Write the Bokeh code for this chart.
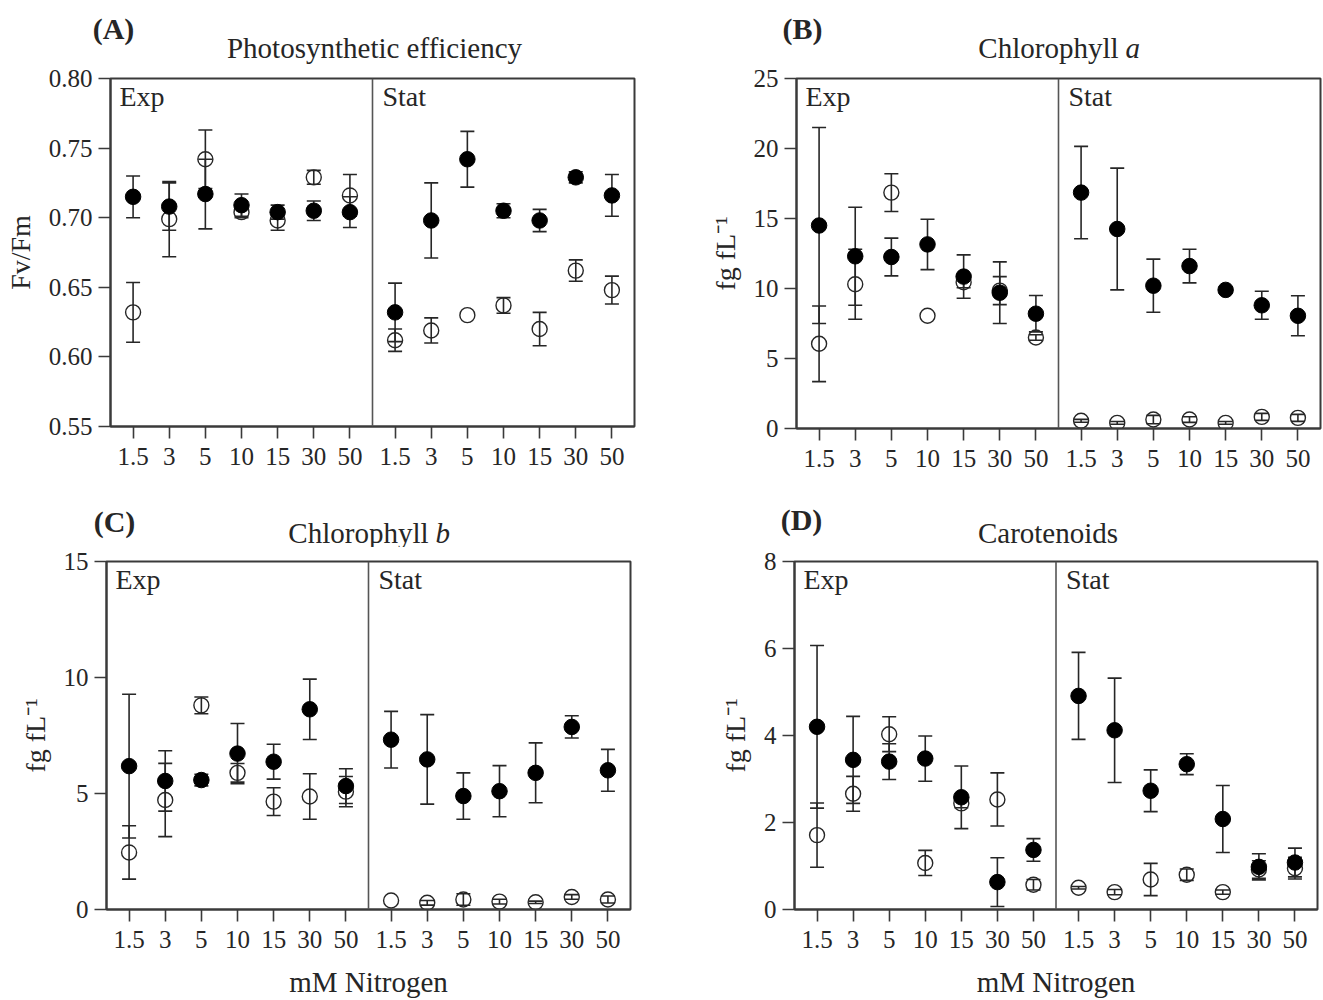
from bokeh.plotting import figure
from bokeh.layouts import column, row
from bokeh.models import FixedTicker, Label, Span, ColumnDataSource, Range1d
from bokeh.embed import file_html
from bokeh.resources import INLINE

# Nitrogen treatment levels (mM), shown once per growth phase
levels = ["1.5", "3", "5", "10", "15", "30", "50"]

# (A) Photosynthetic efficiency, Fv/Fm
fvfm_exp_solid = [0.715, 0.708, 0.717, 0.709, 0.704, 0.705, 0.704]
fvfm_exp_solid_err = [0.015, 0.017, 0.025, 0.008, 0.005, 0.007, 0.011]
fvfm_exp_hollow = [0.632, 0.699, 0.742, 0.704, 0.698, 0.729, 0.716]
fvfm_exp_hollow_err = [0.0215, 0.027, 0.021, 0.004, 0.007, 0.005, 0.015]
fvfm_stat_solid = [0.632, 0.698, 0.742, 0.705, 0.698, 0.729, 0.716]
fvfm_stat_solid_err = [0.021, 0.027, 0.020, 0.005, 0.008, 0.004, 0.015]
fvfm_stat_hollow = [0.612, 0.619, 0.630, 0.637, 0.620, 0.662, 0.648]
fvfm_stat_hollow_err = [0.008, 0.009, 0.0, 0.0056, 0.012, 0.0077, 0.010]

# (B) Chlorophyll a, fg fL-1
chla_exp_solid = [14.5, 12.3, 12.25, 13.15, 10.85, 9.7, 8.2]
chla_exp_solid_err = [7.0, 3.5, 1.35, 1.8, 1.55, 2.2, 1.3]
chla_exp_hollow = [6.05, 10.3, 16.85, 8.05, 10.45, 9.85, 6.5]
chla_exp_hollow_err = [2.7, 2.5, 1.35, 0.0, 0.4, 1.0, 0.2]
chla_stat_solid = [16.85, 14.25, 10.2, 11.6, 9.9, 8.8, 8.05]
chla_stat_solid_err = [3.3, 4.35, 1.9, 1.2, 0.2, 1.0, 1.43]
chla_stat_hollow = [0.55, 0.4, 0.64, 0.64, 0.4, 0.83, 0.76]
chla_stat_hollow_err = [0.1, 0.1, 0.3, 0.2, 0.1, 0.25, 0.25]

# (C) Chlorophyll b, fg fL-1
chlb_exp_solid = [6.18, 5.54, 5.58, 6.72, 6.37, 8.63, 5.32]
chlb_exp_solid_err = [3.1, 1.3, 0.25, 1.3, 0.75, 1.3, 0.75]
chlb_exp_hollow = [2.46, 4.72, 8.8, 5.89, 4.65, 4.87, 5.08]
chlb_exp_hollow_err = [1.15, 1.58, 0.36, 0.4, 0.6, 0.98, 0.65]
chlb_stat_solid = [7.32, 6.47, 4.89, 5.1, 5.89, 7.87, 6.0]
chlb_stat_solid_err = [1.22, 1.93, 1.0, 1.1, 1.29, 0.48, 0.9]
chlb_stat_hollow = [0.39, 0.29, 0.43, 0.34, 0.31, 0.54, 0.43]
chlb_stat_hollow_err = [0.0, 0.1, 0.25, 0.1, 0.05, 0.1, 0.15]

# (D) Carotenoids, fg fL-1
car_exp_solid = [4.2, 3.44, 3.4, 3.47, 2.58, 0.63, 1.37]
car_exp_solid_err = [1.87, 1.0, 0.41, 0.52, 0.72, 0.56, 0.26]
car_exp_hollow = [1.71, 2.66, 4.03, 1.07, 2.44, 2.53, 0.57]
car_exp_hollow_err = [0.74, 0.4, 0.4, 0.29, 0.1, 0.61, 0.12]
car_stat_solid = [4.91, 4.12, 2.73, 3.34, 2.08, 0.98, 1.08]
car_stat_solid_err = [1.0, 1.2, 0.48, 0.24, 0.77, 0.3, 0.33]
car_stat_hollow = [0.5, 0.4, 0.69, 0.8, 0.4, 0.92, 0.95]
car_stat_hollow_err = [0.03, 0.06, 0.37, 0.13, 0.05, 0.2, 0.25]

SERIF = "Liberation Serif"
INK = "#262626"
FRAME = "#3a3a3a"

# x layout: Exp levels at 0..6, Stat levels after a divider
exp_x = [float(i) for i in range(len(levels))]
stat_x = [7.25 + i for i in range(len(levels))]
divider = 6.625
x_lo, x_hi = -0.625, 13.875


def error_bars(p, xs, ys, errs):
    keep = [i for i, e in enumerate(errs) if e > 0]
    src = ColumnDataSource(dict(
        x=[xs[i] for i in keep],
        lo=[ys[i] - errs[i] for i in keep],
        hi=[ys[i] + errs[i] for i in keep],
    ))
    p.segment(x0="x", y0="lo", x1="x", y1="hi", source=src,
              line_color=INK, line_width=1.6)
    p.scatter(x="x", y="lo", source=src, marker="dash", size=14,
              line_color=INK, line_width=1.6)
    p.scatter(x="x", y="hi", source=src, marker="dash", size=14,
              line_color=INK, line_width=1.6)


def header(letter, title_parts, width, height, left, right, title_dx=0):
    """Strip above a panel holding its letter and title."""
    fw = width - left - right
    ppu = fw / (x_hi - x_lo)
    h = figure(width=width, height=height, output_backend="svg",
               toolbar_location=None, tools="",
               x_axis_type=None, y_axis_type=None,
               x_range=Range1d(x_lo - left / ppu, x_hi + right / ppu),
               y_range=Range1d(0, height),
               min_border_left=0, min_border_right=0,
               min_border_top=0, min_border_bottom=0,
               frame_align=False)
    h.outline_line_color = None
    h.grid.visible = False
    h.background_fill_color = "white"
    h.border_fill_color = "white"
    lab = dict(text_font=SERIF, text_color=INK, text_baseline="middle",
               y_units="screen")
    text, lx, ly = letter
    h.add_layout(Label(x=x_lo, x_offset=lx, y=ly, text=text,
                       text_font_size="30px", text_font_style="bold",
                       text_align="center", **lab))
    ty = title_parts[-1]
    if len(title_parts) == 2:
        h.add_layout(Label(x=divider, y=ty, x_offset=title_dx, text=title_parts[0],
                           text_font_size="29px", text_align="center", **lab))
    else:
        h.add_layout(Label(x=divider, y=ty, text=title_parts[0], x_offset=60,
                           text_font_size="29px", text_align="right", **lab))
        h.add_layout(Label(x=divider, y=ty, text=title_parts[1], x_offset=67,
                           text_font_size="29px", text_font_style="italic",
                           text_align="left", **lab))
    return h


def panel(ylabel, yticks, ylabels, series, width, height, borders, xlabel=None):
    left, right, top, bottom = borders
    y0, y1 = yticks[0], yticks[-1]
    p = figure(width=width, height=height, output_backend="svg",
               toolbar_location=None, tools="",
               x_range=Range1d(x_lo, x_hi), y_range=Range1d(y0, y1),
               min_border_left=left, min_border_right=right,
               min_border_top=top, min_border_bottom=bottom,
               frame_align=False)
    p.background_fill_color = "white"
    p.border_fill_color = "white"
    p.outline_line_color = FRAME
    p.outline_line_width = 2
    p.grid.visible = False

    for ax in (p.xaxis[0], p.yaxis[0]):
        ax.axis_line_color = FRAME
        ax.axis_line_width = 2
        ax.major_tick_line_color = FRAME
        ax.major_tick_line_width = 1.6
        ax.major_tick_in = 0
        ax.major_tick_out = 12
        ax.minor_tick_line_color = None
        ax.major_label_text_font = SERIF
        ax.major_label_text_font_size = "25px"
        ax.major_label_text_color = INK
        ax.axis_label_text_font = SERIF
        ax.axis_label_text_font_style = "normal"
        ax.axis_label_text_color = INK

    xt = exp_x + stat_x
    p.xaxis.ticker = FixedTicker(ticks=xt)
    p.xaxis.major_label_overrides = {x: lab for x, lab in zip(xt, levels + levels)}
    p.xaxis.major_label_standoff = 9
    if xlabel:
        p.xaxis.axis_label = xlabel
        p.xaxis.axis_label_text_font_size = "29px"
        p.xaxis.axis_label_standoff = 15

    p.yaxis.ticker = FixedTicker(ticks=yticks)
    p.yaxis.major_label_overrides = {t: lab for t, lab in zip(yticks, ylabels)}
    p.yaxis.major_label_standoff = 6
    p.yaxis.axis_label = ylabel
    p.yaxis.axis_label_text_font_size = "28px"
    p.yaxis.axis_label_standoff = 10

    p.add_layout(Span(location=divider, dimension="height",
                      line_color="#555555", line_width=1.6))

    # error bars first, then hollow circles, then solid circles on top
    for xs, (ys, es, _) in zip((exp_x, exp_x, stat_x, stat_x), series):
        error_bars(p, xs, ys, es)
    for xs, (ys, es, solid) in zip((exp_x, exp_x, stat_x, stat_x), series):
        if not solid:
            p.scatter(xs, ys, size=15, marker="circle", fill_alpha=0,
                      line_color=INK, line_width=1.4)
    for xs, (ys, es, solid) in zip((exp_x, exp_x, stat_x, stat_x), series):
        if solid:
            p.scatter(xs, ys, size=15.5, marker="circle", fill_color="black",
                      line_color="black", line_width=1)

    fh = height - top - bottom
    lab = dict(text_font=SERIF, text_color=INK, text_baseline="middle",
               text_font_size="28px", text_align="left", y_units="screen")
    p.add_layout(Label(x=9, y=fh - 18, x_units="screen", text="Exp", **lab))
    p.add_layout(Label(x=divider, y=fh - 18, x_offset=10, text="Stat", **lab))
    return p


UNIT = "fg fL\u207b\u00b9"

ha = header(("(A)", 3, 36), ("Photosynthetic efficiency", 17), 660, 64, 110, 26,
            title_dx=2)
pa = panel("Fv/Fm", [0.55, 0.60, 0.65, 0.70, 0.75, 0.80],
           ["0.55", "0.60", "0.65", "0.70", "0.75", "0.80"],
           [(fvfm_exp_solid, fvfm_exp_solid_err, True),
            (fvfm_exp_hollow, fvfm_exp_hollow_err, False),
            (fvfm_stat_solid, fvfm_stat_solid_err, True),
            (fvfm_stat_hollow, fvfm_stat_hollow_err, False)],
           660, 426, (110, 26, 14, 64))

hb = header(("(B)", 6, 36), ("Chlorophyll", "a", 17), 663, 64, 136, 3)
pb = panel(UNIT, [0, 5, 10, 15, 20, 25], ["0", "5", "10", "15", "20", "25"],
           [(chla_exp_solid, chla_exp_solid_err, True),
            (chla_exp_hollow, chla_exp_hollow_err, False),
            (chla_stat_solid, chla_stat_solid_err, True),
            (chla_stat_hollow, chla_stat_hollow_err, False)],
           663, 426, (136, 3, 14, 62))

hc = header(("(C)", 8, 26), ("Chlorophyll", "b", 15), 660, 57, 106, 30)
pc = panel(UNIT, [0, 5, 10, 15], ["0", "5", "10", "15"],
           [(chlb_exp_solid, chlb_exp_solid_err, True),
            (chlb_exp_hollow, chlb_exp_hollow_err, False),
            (chlb_stat_solid, chlb_stat_solid_err, True),
            (chlb_stat_hollow, chlb_stat_hollow_err, False)],
           660, 453, (106, 30, 14, 91), xlabel="mM Nitrogen")

hd = header(("(D)", 7, 28), ("Carotenoids", 15), 663, 57, 134, 6, title_dx=-8)
pd = panel(UNIT, [0, 2, 4, 6, 8], ["0", "2", "4", "6", "8"],
           [(car_exp_solid, car_exp_solid_err, True),
            (car_exp_hollow, car_exp_hollow_err, False),
            (car_stat_solid, car_stat_solid_err, True),
            (car_stat_hollow, car_stat_hollow_err, False)],
           663, 453, (134, 6, 14, 91), xlabel="mM Nitrogen")

layout = column(row(column(ha, pa), column(hb, pb)),
                row(column(hc, pc), column(hd, pd)))
open("out.html", "w").write(file_html(layout, INLINE))
